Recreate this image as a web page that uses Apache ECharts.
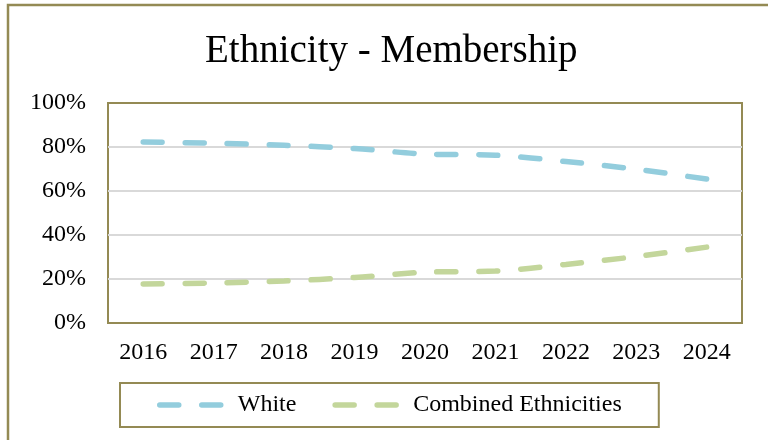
<!DOCTYPE html>
<html>
<head>
<meta charset="utf-8">
<script src="https://cdn.jsdelivr.net/npm/echarts@6/dist/echarts.min.js"></script>
<style>
  html, body { margin: 0; padding: 0; background: #fff; }
  #chart { width: 768px; height: 440px; }
</style>
</head>
<body>
<div id="chart"></div>
<script>
// data
var years = ['2016', '2017', '2018', '2019', '2020', '2021', '2022', '2023', '2024'];
var white = [82.3, 81.7, 80.8, 79.3, 76.8, 76.3, 73.4, 69.9, 65.4];
var combined = [17.7, 18.2, 19.1, 20.7, 23.1, 23.6, 26.6, 30.2, 34.5];
var yTicks = [0, 20, 40, 60, 80, 100];

var serif = '"Liberation Serif", "DejaVu Serif", serif';
var frame = '#948A54';

var myChart = echarts.init(document.getElementById('chart'), null, { renderer: 'canvas' });

function dashed(color) {
    return {
        color: color,
        width: 5.5,
        type: [19, 23],
        cap: 'round'
    };
}

var option = {
    backgroundColor: '#fff',
    animation: false,
    textStyle: { fontFamily: serif, color: '#000' },
    graphic: [{
        type: 'rect',
        shape: { x: 8, y: 5, width: 800, height: 500 },
        style: { fill: 'none', stroke: frame, lineWidth: 2.5 },
        silent: true
    }],
    title: {
        text: 'Ethnicity - Membership',
        left: 200,
        top: 27,
        textStyle: { fontFamily: serif, fontSize: 39, fontWeight: 'normal', color: '#000' }
    },
    legend: {
        data: ['White', 'Combined Ethnicities'],
        left: 120,
        top: 383,
        padding: [10, 37, 10, 37],
        borderColor: frame,
        borderWidth: 2,
        itemWidth: 66,
        itemHeight: 12,
        itemGap: 36,
        itemStyle: { opacity: 0 },
        lineStyle: { width: 5.5, type: [19, 23], cap: 'round' },
        textStyle: { fontFamily: serif, fontSize: 24, color: '#000', padding: [0, 0, 0, 7] }
    },
    grid: {
        left: 108,
        right: 26,
        top: 103,
        bottom: 117,
        show: true,
        borderColor: frame,
        borderWidth: 2,
        backgroundColor: '#fff'
    },
    xAxis: {
        type: 'category',
        data: years,
        boundaryGap: true,
        axisLine: { show: false },
        axisTick: { show: false },
        axisLabel: { fontFamily: serif, fontSize: 24, color: '#000', margin: 18 }
    },
    yAxis: {
        type: 'value',
        min: yTicks[0],
        max: yTicks[yTicks.length - 1],
        interval: 20,
        axisLine: { show: false },
        axisTick: { show: false },
        splitLine: {
            showMinLine: false,
            showMaxLine: false,
            lineStyle: { color: '#D9D9D9', width: 2 }
        },
        axisLabel: {
            fontFamily: serif, fontSize: 24, color: '#000', margin: 22,
            formatter: function (v) { return v + '%'; }
        }
    },
    series: [
        {
            name: 'White',
            type: 'line',
            data: white,
            smooth: 0.3,
            symbol: 'none',
            color: '#93CDDD',
            lineStyle: dashed('#93CDDD')
        },
        {
            name: 'Combined Ethnicities',
            type: 'line',
            data: combined,
            smooth: 0.3,
            symbol: 'none',
            color: '#C3D69B',
            lineStyle: dashed('#C3D69B')
        }
    ]
};

myChart.setOption(option);
window.addEventListener('resize', myChart.resize);
</script>
</body>
</html>
